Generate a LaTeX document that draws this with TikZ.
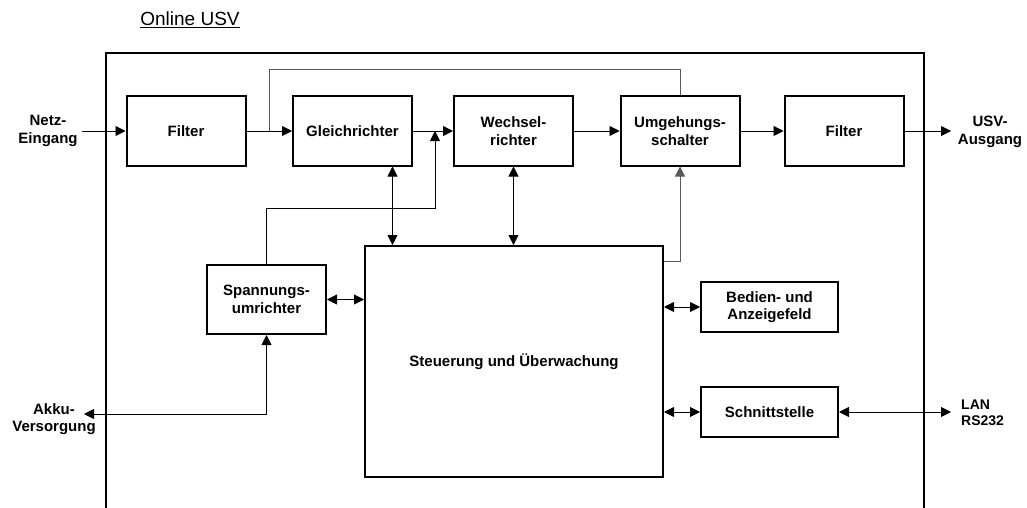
\documentclass[tikz,border=0pt]{standalone}
\usepackage{fontspec}
\setmainfont{Liberation Sans}
\usetikzlibrary{arrows.meta,calc}
\newcommand\BoxFont{\bfseries\fontsize{15}{17.5}\selectfont}
\newcommand\PortFont{\bfseries\fontsize{14}{16}\selectfont}

\begin{document}
\begin{tikzpicture}[x=1pt, y=-1pt,
                    >={Triangle[length=10pt,width=10pt]},
                    box/.style = { draw, line width=2pt, align=center, inner sep=0pt, font=\BoxFont },
                    wbox/.style = { box, minimum width=119pt, minimum height=69pt },
                    sbox/.style = { box, minimum width=137pt, minimum height=50pt },
                    extlabel/.style = { align=center, inner sep=1pt, font=\BoxFont },
                    line/.style = { line width=0.9pt },
                    bypass/.style = { line, black!65 },
                    frame/.style = { line width=2pt }]

  \useasboundingbox (0,0) rectangle (1027,508);

  % title and outer frame
  \node (title) at(190,20) [inner sep=0pt, font=\fontsize{19}{21}\selectfont] {\underline{Online USV}};
  \draw [frame] (106,508) -- (106,53) -- (924,53) -- (924,508);

  % upper chain
  \node (filterIn)  at(186,131)   [wbox] {Filter};
  \node (gleich)    at(352.5,131) [wbox] {Gleichrichter};
  \node (wechsel)   at(513.5,131) [wbox] {Wechsel-\\richter};
  \node (umgehung)  at(680,131)   [wbox] {Umgehungs-\\schalter};
  \node (filterOut) at(844,131)   [wbox] {Filter};

  % lower blocks
  \node (spannung) at(266.5,299.5) [wbox] {Spannungs-\\umrichter};
  \node (steuer)   at(514,361.5)   [box, minimum width=298pt, minimum height=231pt] {Steuerung und Überwachung};
  \node (bedien)   at(769.5,307)   [sbox] {Bedien- und\\Anzeigefeld};
  \node (schnitt)  at(769.5,412)   [sbox] {Schnittstelle};

  % outside labels
  \node (netz)    at(48,131)  [extlabel] {Netz-\\Eingang};
  \node (ausgang) at(990,132) [extlabel] {USV-\\Ausgang};
  \node (akku)    at(54,419)  [extlabel] {Akku-\\Versorgung};
  \node (lan)     at(960,413) [extlabel, anchor=west, align=left, font=\PortFont] {LAN\\RS232};

  \coordinate (netzIn)     at(82,131);
  \coordinate (ausgangOut) at(951,131);
  \coordinate (akkuOut)    at(84,414);
  \coordinate (lanOut)     at(951,412);
  \coordinate (split) at ($(filterIn.east)!0.5!(gleich.west)$);
  \coordinate (join)  at ($(gleich.east)!0.55!(wechsel.west)$);

  % main power path
  \draw [->, line] (netzIn) -- (filterIn.west);
  \draw [->, line] (filterIn.east) -- (gleich.west);
  \draw [->, line] (gleich.east) -- (wechsel.west);
  \draw [->, line] (wechsel.east) -- (umgehung.west);
  \draw [->, line] (umgehung.east) -- (filterOut.west);
  \draw [->, line] (filterOut.east) -- (ausgangOut);

  % bypass
  \draw [bypass] (split) -- ++(0,-62) -| (umgehung.north);
  \draw [->, bypass] ([yshift=-16pt]steuer.north east) -| (umgehung.south);

  % battery path
  \draw [->, line] (spannung.north) -- ++(0,-56) -| (join);
  \draw [<->, line] (akkuOut) -| (spannung.south);

  % control links
  \draw [<->, line] ([xshift=40pt]gleich.south) -- ([xshift=40pt]gleich.south |- steuer.north);
  \draw [<->, line] (wechsel.south) -- (wechsel.south |- steuer.north);
  \draw [<->, line] (spannung.east) -- (spannung.east -| steuer.west);
  \draw [<->, line] (bedien.west -| steuer.east) -- (bedien.west);
  \draw [<->, line] (schnitt.west -| steuer.east) -- (schnitt.west);
  \draw [<->, line] (schnitt.east) -- (lanOut);
\end{tikzpicture}
\end{document}
